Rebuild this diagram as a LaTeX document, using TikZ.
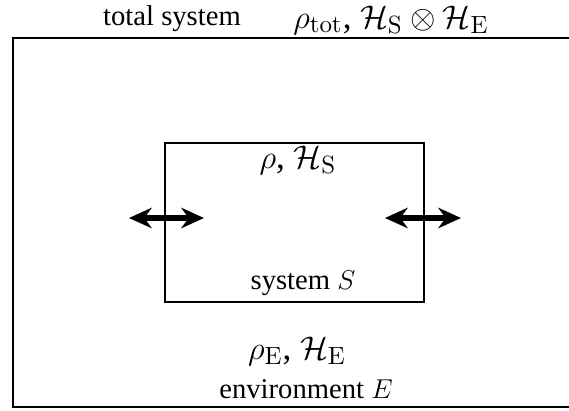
\documentclass[tikz,border=0pt]{standalone}
\usepackage[no-math]{fontspec}
\setmainfont{Liberation Serif}
\usetikzlibrary{arrows.meta,positioning}

\tikzset{
  txt/.style={font=\fontsize{12.6}{15}\selectfont, inner sep=0pt},
  mathlbl/.style={font=\fontsize{15.4}{18}\selectfont, inner sep=0pt},
  box/.style={draw, rectangle, inner sep=0pt},
  flow/.style={line width=2.6pt, {Stealth[length=10pt,width=9pt]}-{Stealth[length=10pt,width=9pt]}},
}

\begin{document}
\begin{tikzpicture}[x=0.44pt, y=-0.44pt]
  \useasboundingbox (0,0) rectangle (569,410);

  % Boxes
  \node[box, line width=0.9pt, minimum width=247.3pt, minimum height=162.4pt] (tot) at (294,222.5) {};
  \node[box, line width=0.66pt, minimum width=114pt, minimum height=70pt] (sys) at (294.5,222.5) {};

  % Exchange arrows
  \coordinate (inL) at (129,218);
  \coordinate (outL) at (204,218);
  \coordinate (inR) at (385,218);
  \coordinate (outR) at (461,218);
  \draw[flow] (inL) -- (outL);
  \draw[flow] (inR) -- (outR);

  % Labels
  \node[txt] (totname) at (172,19) {total system};
  \node[mathlbl] (totstate) at (391,20) {$\rho_{\mathrm{tot}}$, $\mathcal{H}_{\mathrm{S}}\otimes\mathcal{H}_{\mathrm{E}}$};
  \node[mathlbl] (sysstate) at (298,160) {$\rho$, $\mathcal{H}_{\mathrm{S}}$};
  \node[txt] (sysname) at (303,283) {system $S$};
  \node[mathlbl] (envstate) at (297,351) {$\rho_{\mathrm{E}}$, $\mathcal{H}_{\mathrm{E}}$};
  \node[txt] (envname) at (306,389) {environment $E$};
\end{tikzpicture}
\end{document}
